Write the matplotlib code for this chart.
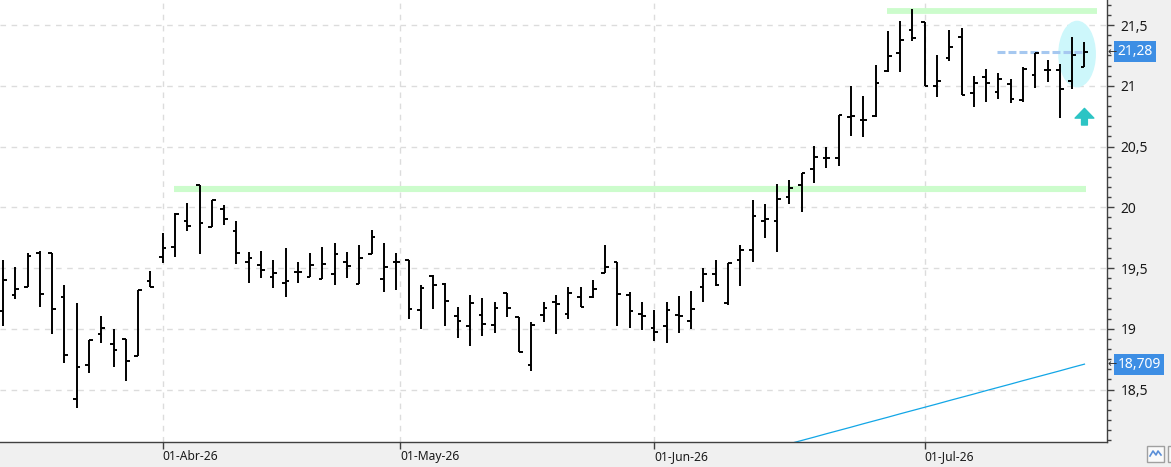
import numpy as np
import matplotlib.pyplot as plt
from matplotlib.patches import Ellipse, Rectangle
from matplotlib.lines import Line2D
from matplotlib.ticker import AutoMinorLocator

plt.rcParams['font.family'] = ['Noto Sans', 'DejaVu Sans']

# daily OHLC bars (one per trading day, index 0 = first visible bar)
opens = [19.146, 19.275, 19.341, 19.626, 19.621, 19.259, 18.419, 18.699, 18.954, 18.872,
         18.916, 18.778, 19.393, 19.591, 19.670, 19.884, 20.183, 19.835, 19.986, 19.802,
         19.549, 19.522, 19.423, 19.374, 19.470, 19.423, 19.407, 19.448, 19.547, 19.366,
         19.613, 19.407, 19.547, 19.566, 19.154, 19.434, 19.368, 19.102, 19.023, 19.111,
         19.028, 19.292, 19.099, 18.699, 19.111, 19.218, 19.119, 19.259, 19.259, 19.456,
         19.547, 19.275, 19.119, 19.006, 19.023, 19.111, 19.061, 19.341, 19.448, 19.214,
         19.563, 19.646, 19.884, 19.884, 20.082, 20.183, 20.312, 20.405, 20.405, 20.740,
         20.718, 20.751, 21.124, 21.272, 21.459, 21.527, 21.000, 21.226, 21.399, 20.938,
         21.070, 20.949, 21.014, 20.883, 21.086, 21.127, 21.130, 21.039, 21.152]
highs = [19.566, 19.508, 19.621, 19.637, 19.621, 19.360, 19.214, 18.907, 19.105, 18.998,
         18.916, 19.316, 19.473, 19.786, 19.955, 20.035, 20.183, 20.057, 20.019, 19.887,
         19.634, 19.640, 19.566, 19.662, 19.549, 19.621, 19.675, 19.706, 19.632, 19.687,
         19.810, 19.706, 19.621, 19.566, 19.358, 19.440, 19.374, 19.176, 19.275, 19.251,
         19.218, 19.292, 19.099, 19.053, 19.220, 19.275, 19.341, 19.341, 19.399, 19.689,
         19.547, 19.302, 19.220, 19.154, 19.218, 19.270, 19.311, 19.497, 19.566, 19.541,
         19.689, 20.060, 20.027, 20.191, 20.224, 20.279, 20.504, 20.499, 20.759, 21.000,
         20.916, 21.171, 21.451, 21.535, 21.632, 21.527, 21.253, 21.459, 21.473, 21.083,
         21.135, 21.107, 21.056, 21.157, 21.267, 21.212, 21.179, 21.399, 21.358]
lows = [19.025, 19.247, 19.341, 19.182, 18.959, 18.716, 18.345, 18.633, 18.885, 18.683,
        18.573, 18.778, 19.341, 19.544, 19.593, 19.805, 19.613, 19.835, 19.851, 19.530,
        19.374, 19.420, 19.333, 19.259, 19.374, 19.423, 19.407, 19.363, 19.415, 19.366,
        19.613, 19.305, 19.321, 19.078, 18.996, 19.165, 19.023, 18.926, 18.861, 18.943,
        18.967, 19.099, 18.806, 18.655, 19.053, 18.954, 19.078, 19.176, 19.251, 19.456,
        19.025, 19.009, 18.987, 18.902, 18.885, 18.967, 18.996, 19.223, 19.354, 19.198,
        19.354, 19.552, 19.749, 19.629, 20.027, 19.963, 20.202, 20.320, 20.342, 20.586,
        20.576, 20.740, 21.116, 21.116, 21.368, 21.000, 20.910, 21.206, 20.924, 20.828,
        20.869, 20.891, 20.856, 20.869, 20.979, 21.028, 20.732, 20.973, 21.152]
closes = [19.400, 19.325, 19.599, 19.286, 19.160, 18.781, 18.685, 18.907, 19.004, 18.823,
          18.732, 19.316, 19.341, 19.662, 19.944, 19.843, 19.870, 20.057, 19.903, 19.623,
          19.582, 19.484, 19.456, 19.393, 19.465, 19.522, 19.530, 19.613, 19.519, 19.580,
          19.753, 19.506, 19.547, 19.160, 19.333, 19.358, 19.228, 19.064, 19.209, 19.037,
          19.168, 19.168, 18.806, 19.028, 19.168, 19.201, 19.294, 19.176, 19.325, 19.506,
          19.286, 19.146, 19.102, 18.971, 19.154, 19.102, 19.163, 19.448, 19.358, 19.541,
          19.646, 19.928, 19.901, 20.065, 20.156, 20.279, 20.414, 20.405, 20.759, 20.751,
          20.718, 21.023, 21.245, 21.377, 21.391, 21.000, 21.039, 21.316, 20.924, 21.020,
          21.020, 21.058, 20.893, 21.138, 21.267, 21.127, 20.971, 21.253, 21.275]

# x-axis date ticks (bar index where each month starts)
date_tick_pos = [13, 32.3, 53, 75]
date_tick_labels = ['01-Abr-26', '01-May-26', '01-Jun-26', '01-Jul-26']

# price axis
price_ticks = [18.5, 19, 19.5, 20, 20.5, 21, 21.5]
price_tick_labels = ['18,5', '19', '19,5', '20', '20,5', '21', '21,5']

# long moving average (only the visible end of it)
ma_start = 64
ma_values = [18.054, 18.081, 18.108, 18.136, 18.163, 18.190, 18.218, 18.245, 18.272,
             18.300, 18.327, 18.354, 18.381, 18.409, 18.436, 18.463, 18.491, 18.518,
             18.545, 18.573, 18.600, 18.627, 18.654, 18.682, 18.709]

# drawn levels
resistance = 21.615
resistance_from, resistance_to = 71.9, 89.05
support = 20.153
support_from, support_to = 13.9, 88.1
last_price = 21.28
last_from, last_to = 80.9, 88.0
ma_last_label = '18,709'
last_price_label = '21,28'

x = np.arange(len(opens))

fig = plt.figure(figsize=(11.71, 4.67), dpi=100, facecolor='#f0f0f0')
ax = fig.add_axes([0, 0.0535, 0.9453, 0.9465])
ax.set_facecolor('white')

ax.set_xlim(-0.24, 89.83)
ax.set_ylim(18.068, 21.706)

# grid
ax.set_yticks(price_ticks)
ax.set_yticklabels(price_tick_labels)
ax.set_xticks(date_tick_pos)
ax.set_xticklabels(date_tick_labels, ha='left')
ax.grid(True, color='#dcdcdc', linestyle=(0, (4, 4)), linewidth=1)
ax.set_axisbelow(True)

# highlight ellipse around the last bars
ax.add_patch(Ellipse((87.4, 21.261), 3.07, 0.549, fc='#cdf7fb', ec='none', zorder=1))

# support / resistance bands
ax.hlines(resistance, resistance_from, resistance_to, color='#ccfccc', lw=4.2, zorder=1.5)
ax.hlines(support, support_from, support_to, color='#ccfccc', lw=4.4, zorder=1.5)

# last price dashed line
ax.hlines(last_price, last_from, last_to, color='#a6c8f0', lw=2.2,
          linestyles=(0, (2.6, 1.0)), zorder=2)

# moving average
ax.plot(np.arange(ma_start, ma_start + len(ma_values)), ma_values, color='#12a6e6', lw=0.9, zorder=2)

# OHLC bars
ax.vlines(x, lows, highs, color='black', lw=1.4, zorder=3)
ax.hlines(opens, x - 0.3, x, color='black', lw=1.4, zorder=3)
ax.hlines(closes, x, x + 0.3, color='black', lw=1.4, zorder=3)

# up arrow
ax.annotate('', xy=(88, 20.814), xytext=(88, 20.677),
            arrowprops=dict(arrowstyle='simple,head_length=0.7,head_width=1.35,tail_width=0.42',
                            color='#2cc4c4', shrinkA=0, shrinkB=0, mutation_scale=10))

# axes styling
for s in ['left', 'top']:
    ax.spines[s].set_visible(False)
for s in ['right', 'bottom']:
    ax.spines[s].set_color('#404040')
    ax.spines[s].set_linewidth(1)
ax.yaxis.tick_right()
ax.yaxis.set_minor_locator(AutoMinorLocator(6))
ax.tick_params(axis='y', which='major', length=5, width=1, color='#404040', pad=5,
               labelsize=10, labelcolor='#1a1a1a')
ax.tick_params(axis='y', which='minor', length=3, width=1, color='#404040')
ax.tick_params(axis='x', length=5, width=1, color='#404040', pad=1,
               labelsize=8.7, labelcolor='#1a1a1a')

# price boxes on the axis
box = dict(boxstyle='square,pad=0.22', fc='#3d8ee4', ec='none')
ax.text(1.0095, last_price, last_price_label, transform=ax.get_yaxis_transform(), ha='left',
        va='center', color='white', fontsize=10, bbox=box, zorder=5)
ax.text(1.0095, ma_values[-1], ma_last_label, transform=ax.get_yaxis_transform(), ha='left',
        va='center', color='white', fontsize=10, bbox=box, zorder=5)
for lvl in [last_price, ma_values[-1]]:
    ax.text(1.0004, lvl, '\u2190', transform=ax.get_yaxis_transform(), ha='left', va='center',
            color='#303030', fontsize=8, family='DejaVu Sans', clip_on=False, zorder=6)

# little chart-type button bottom right
fig.add_artist(Rectangle((1147 / 1171, 5 / 467), 17 / 1171, 16 / 467, transform=fig.transFigure,
                         fc='#fafafa', ec='#a0a0a0', lw=1))
fig.add_artist(Line2D([1150 / 1171, 1153 / 1171, 1156 / 1171, 1158 / 1171, 1161 / 1171],
                      [11 / 467, 16 / 467, 12 / 467, 16 / 467, 12 / 467],
                      transform=fig.transFigure, color='#5a8fd8', lw=1.2))
fig.add_artist(Rectangle((1168 / 1171, 5 / 467), 10 / 1171, 16 / 467, transform=fig.transFigure,
                         fc='#fafafa', ec='#a0a0a0', lw=1))

fig.savefig('out.png', dpi=100, facecolor=fig.get_facecolor())
